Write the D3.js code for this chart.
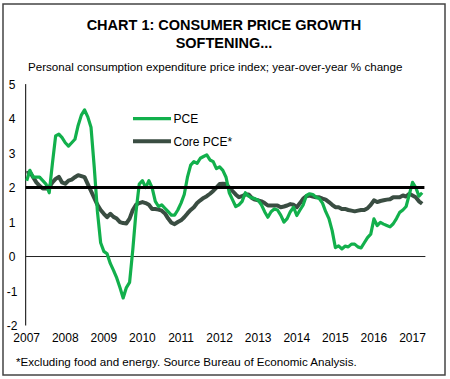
<!DOCTYPE html>
<html><head><meta charset="utf-8">
<script src="https://cdn.jsdelivr.net/npm/d3@7"></script>
<style>
html,body{margin:0;padding:0;background:#fff;}
text{font-family:"Liberation Sans",Arial,sans-serif;}
</style></head>
<body>
<svg id="c" width="450" height="379"></svg>
<script>
const startYear = 2007;
const pce = [
 2.2,2.5,2.3,2.3,2.3,2.2,2.1,1.85,2.7,3.5,3.55,3.45,
 3.3,3.2,3.3,3.4,3.8,4.1,4.25,4.05,3.75,2.6,1.3,0.4,
 0.15,0.08,-0.2,-0.4,-0.62,-0.9,-1.2,-0.9,-0.75,0.2,1.3,2.1,
 2.2,2.0,2.2,2.0,1.6,1.45,1.5,1.4,1.3,1.2,1.2,1.35,
 1.55,1.8,2.3,2.65,2.75,2.7,2.85,2.9,2.95,2.8,2.75,2.55,
 2.6,2.5,2.3,1.85,1.65,1.45,1.5,1.6,1.85,1.75,1.7,1.68,
 1.63,1.5,1.3,1.14,1.3,1.38,1.35,1.2,1.0,1.1,1.3,1.43,
 1.19,1.35,1.5,1.77,1.82,1.8,1.72,1.68,1.55,1.3,1.1,0.75,
 0.26,0.31,0.22,0.3,0.28,0.36,0.36,0.28,0.25,0.4,0.55,0.65,
 1.09,0.9,0.99,0.94,0.9,0.86,0.95,1.1,1.28,1.35,1.45,1.8,
 2.15,2.0,1.75,1.85
];
const core = [
 2.41,2.45,2.3,2.15,2.05,1.97,1.97,2.01,2.15,2.25,2.31,2.15,
 2.11,2.2,2.23,2.3,2.36,2.33,2.3,2.1,1.9,1.7,1.5,1.35,
 1.24,1.14,1.24,1.15,1.1,1.0,0.97,0.96,1.1,1.35,1.5,1.55,
 1.58,1.55,1.5,1.38,1.38,1.36,1.33,1.25,1.1,0.98,0.94,1.0,
 1.05,1.14,1.25,1.35,1.43,1.55,1.63,1.7,1.75,1.82,1.9,2.0,
 2.1,2.11,2.1,2.0,1.9,1.8,1.72,1.75,1.8,1.8,1.7,1.65,
 1.63,1.6,1.55,1.48,1.48,1.48,1.48,1.43,1.45,1.48,1.52,1.5,
 1.43,1.55,1.68,1.75,1.77,1.74,1.72,1.72,1.68,1.65,1.58,1.5,
 1.43,1.43,1.38,1.38,1.35,1.33,1.31,1.33,1.35,1.35,1.4,1.5,
 1.63,1.58,1.61,1.63,1.65,1.66,1.72,1.72,1.72,1.77,1.74,1.82,
 1.77,1.72,1.6,1.53
];
const yearTicks = [2007,2008,2009,2010,2011,2012,2013,2014,2015,2016,2017];
const yTicks = [-2,-1,0,1,2,3,4,5];
const target = 2;
const seriesNames = ["PCE","Core PCE*"];

const svg = d3.select("#c");
svg.append("rect").attr("x",3).attr("y",4).attr("width",442).attr("height",371)
  .attr("fill","#fff").attr("stroke","#444").attr("stroke-width",1.5);

svg.append("text").attr("x",224).attr("y",30).attr("text-anchor","middle")
  .attr("font-size",14.5).attr("font-weight","bold").text("CHART 1: CONSUMER PRICE GROWTH");
svg.append("text").attr("x",224).attr("y",48).attr("text-anchor","middle")
  .attr("font-size",14.5).attr("font-weight","bold").text("SOFTENING...");
svg.append("text").attr("x",28).attr("y",71).attr("font-size",11.6)
  .text("Personal consumption expenditure price index; year-over-year % change");

const x = d3.scaleLinear().domain([2007, 2017 + 4/12]).range([26.7, 425.4]);
const y = d3.scaleLinear().domain([-2,5]).range([325.5, 84.1]);
const tOf = i => startYear + i/12;

svg.append("line").attr("x1",x(2007)-1).attr("x2",x(2007)-1).attr("y1",y(5)).attr("y2",y(-2))
  .attr("stroke","#000").attr("stroke-width",1);
svg.selectAll(".yl").data(yTicks).enter().append("text")
  .attr("x",12).attr("y",d=>y(d)+4.5).attr("text-anchor","middle").attr("font-size",12)
  .text(d=>d);
svg.selectAll(".xl").data(yearTicks).enter().append("text")
  .attr("x",d=>x(d)).attr("y",342).attr("text-anchor","middle").attr("font-size",12)
  .text(d=>d);
svg.append("line").attr("x1",x(2007)-1).attr("x2",x(2017+4/12)).attr("y1",y(0)).attr("y2",y(0))
  .attr("stroke","#222").attr("stroke-width",1);

const line = d3.line().x((d,i)=>x(tOf(i))).y(d=>y(d));
svg.append("path").datum(core).attr("d",line).attr("fill","none")
  .attr("stroke","#3a4d42").attr("stroke-width",4).attr("stroke-linejoin","round");
svg.append("path").datum(pce).attr("d",line).attr("fill","none")
  .attr("stroke","#12b04c").attr("stroke-width",3.2).attr("stroke-linejoin","round");
svg.append("line").attr("x1",x(2007)-1).attr("x2",x(2017+4/12)-1).attr("y1",y(target)).attr("y2",y(target))
  .attr("stroke","#000").attr("stroke-width",3);

const leg = [{n:seriesNames[0],c:"#12b04c",w:3.2,y:118.7},{n:seriesNames[1],c:"#3a4d42",w:4,y:141.3}];
leg.forEach(l=>{
  svg.append("line").attr("x1",133).attr("x2",171).attr("y1",l.y).attr("y2",l.y)
    .attr("stroke",l.c).attr("stroke-width",l.w);
  svg.append("text").attr("x",173.5).attr("y",l.y+4.5).attr("font-size",12).text(l.n);
});

svg.append("text").attr("x",16).attr("y",366).attr("font-size",11.6)
  .text("*Excluding food and energy. Source Bureau of Economic Analysis.");
</script>
</body></html>
